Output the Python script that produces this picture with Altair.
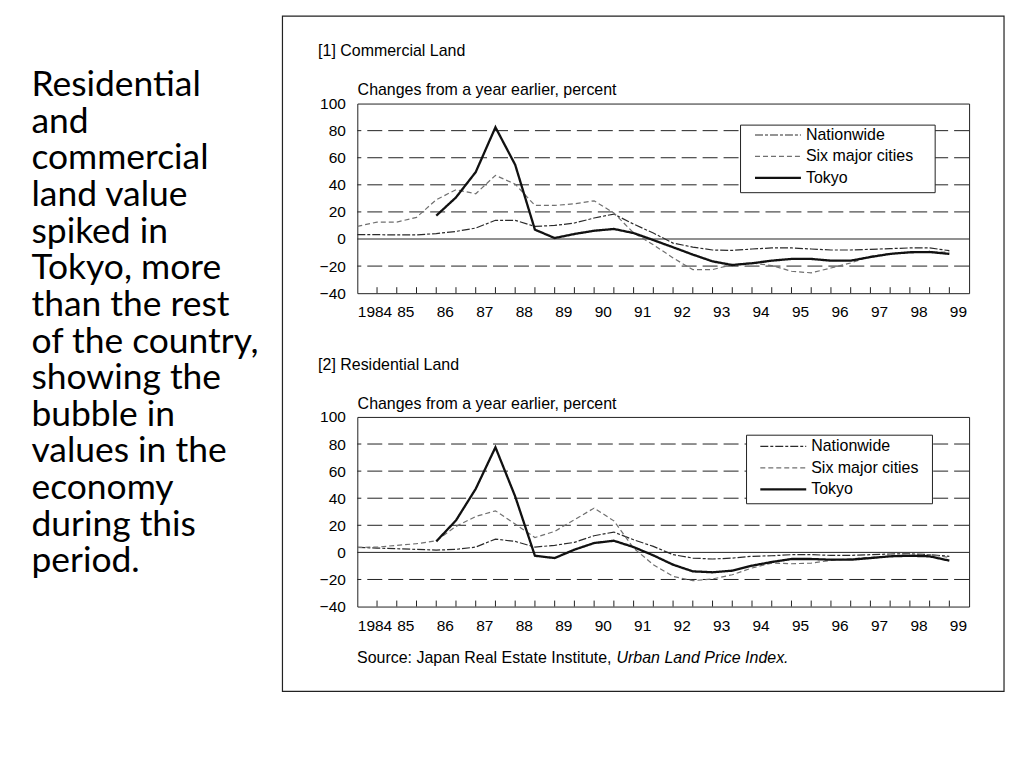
import altair as alt
import pandas as pd

# ---------------- data ----------------
years = [1984.0, 1984.5, 1985.0, 1985.5, 1986.0, 1986.5, 1987.0, 1987.5, 1988.0, 1988.5,
         1989.0, 1989.5, 1990.0, 1990.5, 1991.0, 1991.5, 1992.0, 1992.5, 1993.0, 1993.5,
         1994.0, 1994.5, 1995.0, 1995.5, 1996.0, 1996.5, 1997.0, 1997.5, 1998.0, 1998.5,
         1999.0]

com_nationwide = [3.2, 3.2, 3.0, 3.0, 4.0, 5.6, 8.1, 13.8, 13.8, 9.3,
                  10.0, 11.8, 15.5, 18.4, 11.0, 4.4, -3.0, -6.0, -8.1, -8.4,
                  -7.4, -6.6, -6.6, -7.4, -8.1, -8.1, -7.6, -7.1, -6.6, -6.6,
                  -8.6]
com_six = [9.3, 12.5, 12.5, 16.0, 29.0, 36.4, 33.4, 47.0, 40.5, 24.8,
           24.8, 26.0, 28.2, 19.2, 4.5, -4.2, -14.0, -22.6, -22.6, -18.9,
           -17.7, -19.6, -23.8, -25.0, -21.4, -17.7, -12.8, -10.8, -9.8, -9.6,
           -9.6]
com_tokyo = [None, None, None, None, 17.2, 30.7, 49.4, 82.5, 54.8, 6.9,
             0.7, 3.7, 6.1, 7.4, 4.4, -0.8, -6.1, -11.5, -16.5, -19.2,
             -17.9, -16.0, -14.7, -14.7, -16.0, -16.0, -13.3, -11.0, -9.8, -9.6,
             -11.0]

res_nationwide = [3.7, 3.2, 2.7, 2.2, 1.7, 2.2, 3.9, 9.8, 8.1, 3.9,
                  5.2, 7.4, 12.3, 15.0, 9.3, 4.4, -1.7, -4.2, -4.9, -4.2,
                  -2.9, -2.5, -1.7, -1.7, -2.2, -2.2, -1.7, -1.2, -1.0, -1.7,
                  -2.9]
res_six = [3.7, 3.9, 5.2, 6.4, 8.6, 19.2, 26.5, 30.7, 20.9, 11.0,
           15.5, 24.1, 32.7, 23.3, 3.2, -9.1, -17.7, -20.9, -19.6, -16.5,
           -11.5, -7.9, -8.4, -7.9, -5.9, -4.7, -3.7, -2.9, -2.2, -1.7,
           -3.7]
res_tokyo = [None, None, None, None, 8.1, 23.6, 46.9, 77.6, 41.3, -2.5,
             -4.2, 2.0, 6.9, 8.6, 3.9, -2.2, -9.1, -14.0, -14.7, -13.5,
             -9.8, -7.1, -4.9, -4.9, -5.4, -5.4, -4.2, -2.9, -2.5, -2.9,
             -6.1]

series_names = ["Nationwide", "Six major cities", "Tokyo"]
label_years = [1984, 1985, 1986, 1987, 1988, 1989, 1990, 1991, 1992, 1993,
               1994, 1995, 1996, 1997, 1998, 1999]
tick_years = [1984.5, 1985.0, 1985.5, 1986.0, 1986.5, 1987.0, 1987.5, 1988.0, 1988.5,
              1989.0, 1989.5, 1990.0, 1990.5, 1991.0, 1991.5, 1992.0, 1992.5, 1993.0,
              1993.5, 1994.0, 1994.5, 1995.0, 1995.5, 1996.0, 1996.5, 1997.0, 1997.5,
              1998.0, 1998.5, 1999.0]
y_labels = [-40, -20, 0, 20, 40, 60, 80, 100]
grid_values = [-20, 20, 40, 60, 80]
zero_value = [0]

side_text = ["Residential", "and", "commercial", "land value", "spiked in",
             "Tokyo, more", "than the rest", "of the country,", "showing the",
             "bubble in", "values in the", "economy", "during this", "period."]

# ---------------- styles ----------------
FONT = "Liberation Sans"
W, H = 613, 190
series_colors = ["#2a2a2a", "#707070", "#111111"]
series_dashes = [[8, 2, 3, 2], [5, 3], [1, 0]]
series_widths = [1.2, 1.2, 2.3]


def long_df(nat, six, tok):
    rows = []
    for name, vals in zip(series_names, [nat, six, tok]):
        for yr, v in zip(years, vals):
            if v is not None:
                rows.append({"year": yr, "value": v, "series": name})
    return pd.DataFrame(rows)


one = pd.DataFrame({"k": [0]})
xscale = alt.Scale(domain=[1984, 1999.5], nice=False, zero=False)
yscale = alt.Scale(domain=[-40, 100], nice=False, zero=False)

x_axis = alt.Axis(
    values=label_years, format="d", title=None, domain=False,
    ticks=False, grid=False, labelAlign="left", labelBaseline="top",
    labelPadding=11.5, labelFlush=False, labelOverlap=False,
    labelBound=False, labelFont=FONT, labelFontSize=15.5,
    labelColor="black",
    labelExpr="datum.value == 1984 ? datum.label : slice(datum.label, 2)")
y_axis = alt.Axis(
    values=y_labels, title=None, domain=False, ticks=False,
    grid=False, labelPadding=12, labelFont=FONT,
    labelFontSize=15.5, labelColor="black")


def X():
    return alt.X("year:Q", scale=xscale, axis=x_axis)


def Y():
    return alt.Y("value:Q", scale=yscale, axis=y_axis)


def text_layer(txt, x, y, size=16, style="normal", font=FONT, **kw):
    return alt.Chart(one).mark_text(
        align="left", baseline="alphabetic", font=font, fontSize=size,
        fontStyle=style, color="black", **kw
    ).encode(x=alt.value(x), y=alt.value(y), text=alt.value(txt))


def panel(df, title, leg_x, leg_y, box, extra):
    grid = alt.Chart(pd.DataFrame({"value": grid_values})).mark_rule(
        color="#222222", strokeWidth=1, strokeDash=[15, 6]
    ).encode(y=Y())
    zero = alt.Chart(pd.DataFrame({"value": zero_value})).mark_rule(
        color="#222222", strokeWidth=1
    ).encode(y=Y())
    ticks = alt.Chart(pd.DataFrame({"year": tick_years})).mark_rule(
        color="#222222", strokeWidth=1
    ).encode(x=X(), y=alt.value(H), y2=alt.value(H - 6))

    legend = alt.Legend(
        orient="none", legendX=leg_x, legendY=leg_y, direction="vertical",
        title=None, padding=0, symbolType="stroke", symbolSize=2116,
        clipHeight=15,
        labelFont=FONT, labelFontSize=16, labelColor="black",
        labelOffset=3.5, rowPadding=4.5,
    )
    lines = alt.Chart(df).mark_line().encode(
        x=X(),
        y=Y(),
        color=alt.Color("series:N", scale=alt.Scale(domain=series_names, range=series_colors), legend=legend),
        strokeDash=alt.StrokeDash("series:N", scale=alt.Scale(domain=series_names, range=series_dashes), legend=legend),
        strokeWidth=alt.StrokeWidth("series:N", scale=alt.Scale(type="ordinal", domain=series_names, range=series_widths), legend=legend),
    )
    legbox = alt.Chart(one).mark_rect(
        fill="white", stroke="#222222", strokeWidth=1
    ).encode(x=alt.value(box[0]), x2=alt.value(box[1]),
             y=alt.value(box[2]), y2=alt.value(box[3]))
    titles = [
        text_layer(title, -39.3, -47.4),
        text_layer("Changes from a year earlier, percent", 0.3, -8.4),
    ]
    return alt.layer(*extra, grid, zero, ticks, lines, legbox, *titles).properties(width=W, height=H)


# decorations for the top panel (coordinates relative to its plot area)
anchor = alt.Chart(one).mark_rect(opacity=0).encode(
    x=alt.value(8 - 357), x2=alt.value(1016 - 357),
    y=alt.value(8 - 101.7), y2=alt.value(760 - 101.7))
outer = alt.Chart(one).mark_rect(
    fill="white", fillOpacity=0, stroke="#222222", strokeWidth=1.2
).encode(x=alt.value(282 - 357), x2=alt.value(1005 - 357),
         y=alt.value(14 - 101.7), y2=alt.value(690.7 - 101.7))
side = alt.Chart(one).mark_text(
    align="left", baseline="alphabetic", font="Lato", fontSize=35.5,
    lineHeight=36.7, color="black"
).encode(x=alt.value(30.5 - 357), y=alt.value(94.3 - 101.7), text=alt.value(side_text))

top = panel(long_df(com_nationwide, com_six, com_tokyo), "[1] Commercial Land",
            397, 24, (384, 579, 21.6, 89.3), [anchor, outer, side])

source = [
    text_layer("Source: Japan Real Estate Institute,", -0.3, 246.6),
    text_layer("Urban Land Price Index.", 259.7, 246.6, style="italic"),
]
bottom = panel(long_df(res_nationwide, res_six, res_tokyo), "[2] Residential Land",
               402.3, 22, (390, 576.3, 18.3, 87), source)

chart = alt.vconcat(top, bottom, spacing=124, bounds="flush").resolve_scale(
    x="independent", y="independent", color="independent",
    strokeDash="independent", strokeWidth="independent"
).resolve_legend(
    color="independent", strokeDash="independent", strokeWidth="independent"
).properties(padding=0, background="white").configure_view(
    stroke="#222222", strokeWidth=1
)

chart.save("out.html", embed_options={"renderer": "svg", "actions": False})
